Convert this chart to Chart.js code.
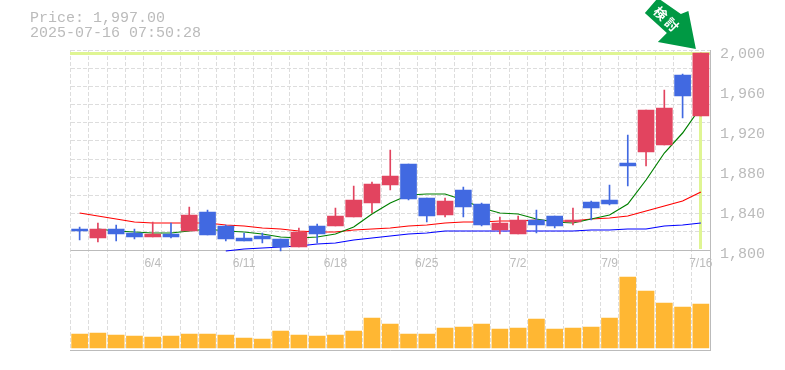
<!DOCTYPE html>
<html lang="ja">
<head>
<meta charset="utf-8">
<style>
html,body{margin:0;padding:0;background:#fff;}
#wrap{position:relative;width:785px;height:370px;overflow:hidden;}
#info{position:absolute;left:30px;top:11px;font:15px/15px "Liberation Mono",monospace;color:#bbb;white-space:pre;}
canvas{position:absolute;left:0;top:0;}
</style>
<script src="https://cdn.jsdelivr.net/npm/chart.js@4"></script>
</head>
<body>
<div id="wrap">
<canvas id="c" width="785" height="370"></canvas>
<div id="info">Price: 1,997.00
2025-07-16 07:50:28</div>
</div>
<script>
const dates = ['5/29','5/30','6/2','6/3','6/4','6/5','6/6','6/9','6/10','6/11','6/12','6/13','6/16','6/17','6/18','6/19','6/20','6/23','6/24','6/25','6/26','6/27','6/30','7/1','7/2','7/3','7/4','7/7','7/8','7/9','7/10','7/11','7/14','7/15','7/16'];
const shownDates = ['6/4','6/11','6/18','6/25','7/2','7/9','7/16'];
const priceTicks = [2000,1960,1920,1880,1840,1800];
const lastPrice = 1997;
const calloutText = '検討';

const open  = [1821,1812,1821,1817,1813,1816,1819,1838,1824,1812,1814,1811,1803,1824,1824,1833,1847,1865,1886,1852,1835,1860,1846,1820,1816,1830,1834,1828,1848,1850,1887,1898,1905,1975,1934];
const high  = [1823,1827,1825,1821,1828,1827,1843,1840,1825,1817,1817,1811,1822,1826,1842,1864,1868,1900,1886,1852,1852,1863,1847,1833,1834,1840,1834,1842,1849,1865,1915,1940,1960,1976,1997];
const low   = [1810,1808,1809,1811,1813,1812,1819,1815,1809,1809,1807,1799,1803,1807,1824,1833,1837,1860,1850,1828,1833,1833,1824,1816,1816,1817,1822,1825,1830,1845,1864,1884,1905,1932,1934];
const close = [1819,1821,1816,1813,1816,1813,1835,1815,1811,1809,1811,1803,1818,1816,1834,1850,1866,1874,1851,1834,1849,1843,1825,1827,1830,1825,1824,1830,1842,1846,1884,1940,1942,1954,1997];
const volume = [14,15,13,12,11,12,14,14,13,10,9,17,13,12,13,17,30,24,14,14,20,21,24,19,20,29,19,20,21,30,71,57,45,41,44];
const maShort = [null,1821,1819,1818,1817,1817,1819,1821,1819,1818,1816,1813,1812,1813,1816,1823,1836,1847,1855,1856,1856,1850,1842,1837,1836,1831,1828,1827,1831,1835,1846,1870,1897,1917,1943];
const maMid   = [1837,1834,1831,1828,1827,1827,1827,1827,1825,1824,1822,1821,1819,1818,1818,1820,1821,1822,1824,1825,1827,1828,1828,1829,1829,1830,1829,1829,1831,1832,1834,1839,1844,1849,1858];
const maLong  = [null,null,null,null,null,null,null,null,1799,1801,1802,1803,1804,1806,1807,1810,1812,1814,1816,1817,1819,1819,1819,1819,1819,1819,1819,1819,1820,1820,1821,1821,1824,1825,1827];

const UP = '#e2445f', DOWN = '#4169e1', GREY = '#bbbbbb', GRID = '#dddddd';
const candleColor = open.map((o,i)=> close[i] >= o ? UP : DOWN);

const marker = {
  id:'marker',
  beforeDatasetsDraw(chart){
    const {ctx,chartArea:a,scales:{x,y}} = chart;
    const px = x.getPixelForValue(dates.length-1), py = y.getPixelForValue(lastPrice);
    ctx.save();
    ctx.fillStyle = '#dff593';
    ctx.fillRect(Math.floor(a.left), py-1, Math.ceil(a.right-a.left), 3);
    ctx.fillRect(Math.round(px)-2, py, 3, y.getPixelForValue(1801)-py);
    ctx.restore();
  },
  afterDatasetsDraw(chart){
    const {ctx,scales:{x,y}} = chart;
    const px = x.getPixelForValue(dates.length-1), py = y.getPixelForValue(lastPrice);
    const pts = [[-5,-4],[-12.5,-42],[-20,-39],[-43,-55],[-56,-40],[-34,-20],[-43,-11]];
    ctx.save();
    ctx.fillStyle = '#009944';
    ctx.beginPath();
    pts.forEach((p,i)=> i ? ctx.lineTo(px+p[0],py+p[1]) : ctx.moveTo(px+p[0],py+p[1]));
    ctx.closePath(); ctx.fill();
    ctx.translate(px-33.5, py-33);
    ctx.rotate(Math.PI/4);
    ctx.fillStyle = '#fff';
    ctx.font = 'bold 13px "Noto Sans CJK JP"';
    ctx.textAlign = 'center'; ctx.textBaseline = 'middle';
    ctx.letterSpacing = '3px';
    ctx.fillText(calloutText, 0, 0);
    ctx.restore();
  }
};

new Chart(document.getElementById('c'),{
  data:{
    labels:dates,
    datasets:[
      {type:'bar',label:'Body',data:open.map((o,i)=>[o,close[i]]),backgroundColor:candleColor,barThickness:16,grouped:false,order:1,yAxisID:'y',xAxisID:'x'},
      {type:'bar',label:'Wick',data:low.map((l,i)=>[l,high[i]]),backgroundColor:candleColor,barThickness:1,grouped:false,order:2,yAxisID:'y',xAxisID:'x'},
      {type:'bar',label:'Volume',data:volume,backgroundColor:'#ffb733',barThickness:16,grouped:false,order:2,yAxisID:'yv',xAxisID:'x'},
      {type:'line',label:'MA short',data:maShort,borderColor:'#008000',borderWidth:1.2,pointRadius:0,tension:0,spanGaps:false,order:3,yAxisID:'y',xAxisID:'x'},
      {type:'line',label:'MA mid',data:maMid,borderColor:'#ff0000',borderWidth:1.2,pointRadius:0,tension:0,order:3,yAxisID:'y',xAxisID:'x'},
      {type:'line',label:'MA long',data:maLong,borderColor:'#0000ff',borderWidth:1.2,pointRadius:0,tension:0,order:3,yAxisID:'y',xAxisID:'x'}
    ]
  },
  plugins:[marker],
  options:{
    responsive:false,animation:false,
    layout:{padding:{left:70.5,top:50,right:0,bottom:20}},
    plugins:{legend:{display:false},tooltip:{enabled:false},title:{display:false}},
    scales:{
      x:{
        type:'category',position:'bottom',offset:true,
        grid:{color:GRID,offset:true,drawTicks:false,lineWidth:1},
        border:{color:GREY,dash:[4,2]},
        ticks:{display:false},
        afterFit(s){s.height=0;}
      },
      xl:{
        type:'category',labels:dates,axis:'x',position:{y:1800},offset:true,
        grid:{display:false,drawTicks:false},border:{display:false},
        ticks:{autoSkip:false,maxRotation:0,minRotation:0,padding:6,color:GREY,
          font:{family:'"Liberation Sans"',size:12},
          callback(v){const t=this.getLabelForValue(v);return shownDates.includes(t)?t:'';}}
      },
      y:{
        type:'linear',position:'right',min:1700,max:2000,
        afterBuildTicks(s){s.ticks=priceTicks.map(v=>({value:v}));},
        grid:{drawTicks:false,color:c=>c.tick && c.tick.value===1800?GREY:'rgba(0,0,0,0)'},
        border:{color:GREY},
        ticks:{padding:10,labelOffset:4,color:GREY,font:{family:'"Liberation Mono"',size:15},
          callback:v=>v.toLocaleString('en-US')},
        afterFit(s){s.width=75;}
      },
      yg:{
        type:'linear',position:'left',reverse:true,min:0,max:16.5,
        afterBuildTicks(s){s.ticks=[0,1,2,3,4,5,6,7,8,9,10].map(v=>({value:v}));},
        grid:{color:GRID,drawTicks:false},
        border:{display:false,dash:[4,2]},
        ticks:{display:false},
        afterFit(s){s.width=0;}
      },
      yv:{type:'linear',display:false,min:-2,max:298}
    }
  }
});
</script>
</body>
</html>
